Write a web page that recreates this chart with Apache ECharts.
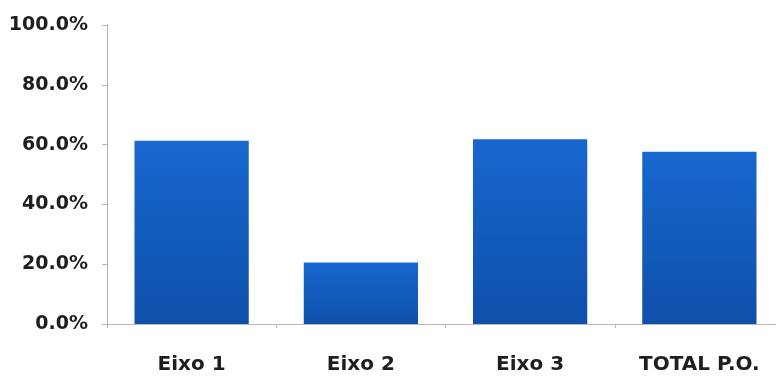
<!DOCTYPE html>
<html>
<head>
<meta charset="utf-8">
<script src="https://cdn.jsdelivr.net/npm/echarts@6/dist/echarts.min.js"></script>
<style>
html,body{margin:0;padding:0;background:#fff;overflow:hidden;width:776px;height:380px;}
#chart{width:784px;height:380px;}
</style>
</head>
<body>
<div id="chart"></div>
<script>
const categories = ['Eixo 1', 'Eixo 2', 'Eixo 3', 'TOTAL P.O.'];
const values = [61.3, 20.6, 61.8, 57.6];
const yTicks = [0, 20, 40, 60, 80, 100];

const chart = echarts.init(document.getElementById('chart'), null, {renderer: 'canvas'});
chart.setOption({
  animation: false,
  backgroundColor: '#ffffff',
  grid: {left: 107, right: 0, top: 25, bottom: 56, containLabel: false},
  xAxis: {
    type: 'category',
    data: categories,
    boundaryGap: true,
    axisLine: {show: true, lineStyle: {color: '#b5b5b5', width: 1}},
    axisTick: {show: true, alignWithLabel: false, length: 4, lineStyle: {color: '#b5b5b5'}},
    axisLabel: {
      margin: 31,
      color: '#1e1e1e',
      fontFamily: 'DejaVu Sans',
      fontWeight: 'bold',
      fontSize: 20
    },
    splitLine: {show: false}
  },
  yAxis: {
    type: 'value',
    min: yTicks[0],
    max: yTicks[yTicks.length - 1],
    interval: 20,
    axisLine: {show: true, lineStyle: {color: '#b5b5b5', width: 1}},
    axisTick: {show: true, length: 5, inside: false, lineStyle: {color: '#b5b5b5'}},
    axisLabel: {
      margin: 19,
      color: '#1e1e1e',
      fontFamily: 'DejaVu Sans',
      fontWeight: 'bold',
      fontSize: 19,
      formatter: v => v.toFixed(1) + '%'
    },
    splitLine: {show: false}
  },
  series: [{
    type: 'bar',
    data: values,
    barWidth: '67.5%',
    itemStyle: {
      color: new echarts.graphic.LinearGradient(0, 0, 0, 1, [
        {offset: 0, color: '#1867cf'},
        {offset: 1, color: '#0e50a9'}
      ])
    }
  }]
});
</script>
</body>
</html>
